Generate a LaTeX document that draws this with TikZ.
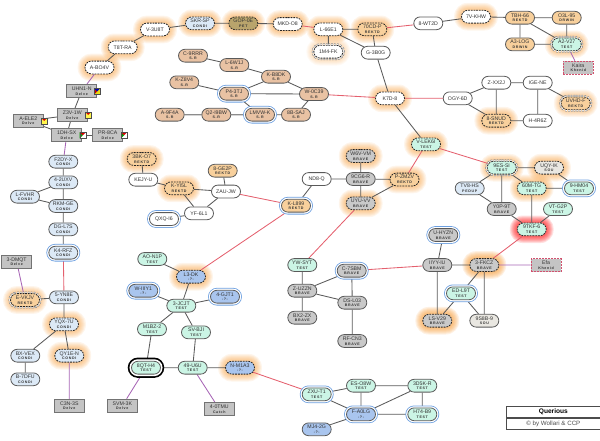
\documentclass[tikz,border=0pt]{standalone}
\usepackage{fontspec}
\setmainfont{Liberation Sans}
\newfontfamily\subfnt[LetterSpace=18]{Liberation Sans Bold}
\usetikzlibrary{shapes.misc,calc}
\pgfdeclarelayer{halolayer}
\pgfdeclarelayer{edgelayer}
\pgfsetlayers{halolayer,edgelayer,main}
\definecolor{cTan}{HTML}{E9C2A3}
\definecolor{cOra}{HTML}{F8D09C}
\definecolor{cBlu}{HTML}{DCE9F6}
\definecolor{cMin}{HTML}{CBF5E5}
\definecolor{cUnk}{HTML}{A9C5EE}
\definecolor{cGra}{HTML}{C9C9C9}
\definecolor{cSou}{HTML}{E9E7E1}
\definecolor{cPet}{HTML}{B9A46C}
\definecolor{cBox}{HTML}{C4C4C4}
\definecolor{cLine}{HTML}{5A5A5A}
\definecolor{cRed}{HTML}{E4606E}
\definecolor{cPur}{HTML}{A765B5}
\definecolor{cPnk}{HTML}{D2506E}
\definecolor{cRing}{HTML}{6C9FE0}
\definecolor{cHalo}{HTML}{F7A040}
\newcommand{\lblf}{\fontsize{5.2}{5.2}\selectfont}
\newcommand{\subf}{\subfnt\fontsize{3.6}{3.6}\selectfont}
\tikzset{
  nd/.style={shape=rounded rectangle,draw=cLine,line width=.8pt,minimum width=29pt,minimum height=12.8pt,inner sep=0pt,align=center,font=\lblf,text=black!80,fill=white},
  bx/.style={shape=rectangle,draw=cLine!85,line width=.9pt,minimum width=30pt,minimum height=13pt,inner sep=0pt,align=center,font=\lblf,text=black!80,fill=cBox},
  pk/.style={bx,draw=cPnk,dashed,dash pattern=on 2pt off 1pt},
  ds/.style={draw=black!85,dash pattern=on 1.8pt off 1pt},
  ring/.style={preaction={draw=cRing,line width=4.8pt},preaction={draw=white,line width=3.2pt}},
  gring/.style={preaction={draw=black!45,line width=4pt},preaction={draw=white,line width=2.6pt}},
  kring/.style={preaction={draw=black,line width=7.4pt},preaction={draw=white,line width=4pt}},
  tan/.style={fill=cTan},ora/.style={fill=cOra},blu/.style={fill=cBlu},min/.style={fill=cMin},
  unk/.style={fill=cUnk},gry/.style={fill=cGra},sou/.style={fill=cSou},pet/.style={fill=cPet},
  e/.style={draw=cLine,line width=.85pt},
  er/.style={draw=cRed,line width=.85pt},
  ep/.style={draw=cPur,line width=.85pt},
  eg/.style={draw=black!45,line width=1.2pt}
}
\newcommand{\NS}[6][]{\node[nd,#1] (#2) at (#3,#4) {#5\\[-.4pt]{\subf #6}};}
\newcommand{\NO}[5][]{\node[nd,#1] (#2) at (#3,#4) {#5};}
\newcommand{\BX}[6][bx]{\node[#1] (#2) at (#3,#4) {#5\\[-.4pt]{\subf #6}};}
\newcommand{\ico}[5]{%
  \fill[#3] (#1-3,#2-3) rectangle (#1+3,#2+3);
  \fill[#4] (#1-3,#2-3) -- (#1+3,#2-3) -- (#1,#2) -- cycle;
  \fill[#5] (#1-3,#2-3) -- (#1-3,#2+3) -- (#1,#2) -- cycle;
  \draw[black!70,line width=.4pt] (#1-3,#2-3) rectangle (#1+3,#2+3);}
\begin{document}
\begin{tikzpicture}[x=1pt,y=-1pt]
\useasboundingbox (0,0) rectangle (600,440);
% top chain
\NO[ds]{ABO}{99.5}{67.5}{A-BO4V}
\NO[ds]{T8T}{122.7}{47.3}{T8T-RA}
\NO[ds]{V3U}{155}{29.5}{V-3U8T}
\NS[ds,blu]{SKR}{200}{23.3}{SKR-SP}{CONDI}
\NS[ds,pet]{GOP}{243.3}{23.3}{GOP-0E}{PET}
\NO[ds]{MKD}{287.7}{24}{MKD-O8}
\NO[ds]{L66}{328.3}{29.3}{L-66E1}
\NS[ds,ora]{70C}{372.3}{29.3}{70CD-P}{REKTD}
\NO[ds,gring]{1M4}{328.3}{51.7}{1M4-FK}
\NO{G3B}{375.7}{52.7}{G-3B0G}
\NO[ds]{K7D}{390}{98.3}{K7D-8}
\NO{8WT}{428.3}{23.3}{8-WT2D}
\NO[ds]{7VK}{476}{16.7}{7V-KHW}
\NS[ora]{TBH}{520}{17.7}{TBH-66}{REKTD}
\NS[ora]{O3L}{566.7}{17.7}{O3L-95}{DRWIN}
\NS[ora]{A3L}{520}{44.3}{A3-LOG}{DRWIN}
\NS[ds,min,gring]{A2V}{566.7}{44.3}{A2-V27}{TEST}
\BX[pk]{KAI}{578.3}{67.7}{Kaira}{Khenid}
\NO{ZXX}{496.3}{82.7}{Z-XX2J}
\NO{IGE}{537.7}{82.7}{IGE-NE}
\NO{OGY}{457.7}{98.3}{OGY-6D}
\NS[ds,ora]{8SN}{496.3}{120.7}{8-SNUD}{REKTD}
\NO{H4R}{537.7}{120.7}{H-4R6Z}
\NS[ds,ora,gring]{UVH}{575.7}{103.3}{UVHD-F}{REKTD}
\NS[ds,min]{VLE}{426}{144.3}{V-LEK6I}{TEST}
% delve
\BX{UHN}{81.7}{91}{UHN1-N}{Delve}
\BX{Z3V}{72.3}{115}{Z3V-1W}{Delve}
\BX{AEL}{28.3}{120.7}{A-ELE2}{Delve}
\BX{1DH}{66.7}{135}{1DH-SX}{Delve}
\BX{PR8}{107.7}{135}{PR-8CA}{Delve}
\ico{97}{91.5}{yellow!90!black}{blue!70!black}{red!80!black}
\ico{88}{115}{yellow!70}{red!85!black}{yellow!70}
\ico{44}{121}{yellow!70}{red!85!black}{yellow!70}
\ico{82.7}{135.3}{white}{red!85!black}{green!60!black}
\ico{124}{135.3}{white}{red!85!black}{green!60!black}
% S.R
\NS[tan]{C9R}{193}{55.7}{C-9RRR}{S.R}
\NS[tan]{L6W}{234.3}{65}{L-6W1J}{S.R}
\NS[tan]{KZ8}{184.3}{82.3}{K-Z8V4}{S.R}
\NS[tan,ring]{P43}{234}{93.7}{P4-3TJ}{S.R}
\NS[tan]{A9F}{169.7}{114.7}{A-9F4A}{S.R}
\NS[tan]{Q2I}{216.3}{114.7}{Q2-I9BW}{S.R}
\NS[tan,ring]{LMV}{260}{114.7}{LMVW-K}{S.R}
\NS[tan]{8BS}{296}{114.7}{8B-SAJ}{S.R}
\NS[tan]{KB8}{276}{76.7}{K-B8DK}{S.R}
\NS[tan]{W0C}{314}{94}{W-0C39}{S.R}
% left column
\NS[blu]{F2D}{63.3}{161.7}{F2DY-X}{CONDI}
\NS[blu]{42U}{63.3}{182.3}{4-2UXV}{CONDI}
\NS[blu]{LFV}{25}{196.7}{L-FVHR}{CONDI}
\NS[blu]{RKM}{63.3}{206}{RKM-GE}{CONDI}
\NS[blu]{DGL}{63.3}{229.3}{DG-L7S}{CONDI}
\NS[blu,ring]{K4R}{63.3}{252.7}{K4-RFZ}{CONDI}
\BX{3DM}{16.7}{261.7}{3-DMQT}{Delve}
\NS[ds,ora,gring]{EVK}{25}{300}{E-VKJV}{REKTD}
\NS[blu]{5YN}{64}{297.3}{5-YN8E}{CONDI}
\NS[ds,blu]{YQX}{64}{324.3}{YQX-7U}{CONDI}
\NS[blu]{BXV}{25.3}{355.7}{BX-VEX}{CONDI}
\NS[ds,blu]{QY1}{69.3}{355.7}{QY1E-N}{CONDI}
\NS[blu]{B7D}{25.3}{379.3}{B-7DFU}{CONDI}
\BX{C3N}{69.3}{405.7}{C3N-3S}{Delve}
\BX{SVM}{122.3}{405.7}{SVM-3K}{Delve}
% middle
\NS[ds,ora]{3BK}{141.7}{159}{3BK-O7}{REKTD}
\NO{KEJ}{143.3}{179.7}{KEJY-U}
\NS[ds,ora]{KYI}{179}{188.3}{K-YI5L}{REKTD}
\NO{YF6}{199}{213.3}{YF-6L1}
\NO[ring]{QXQ}{164}{219}{QXQ-I6}
\NO{ZAU}{226}{191.5}{ZAU-JW}
\NS[ora]{8GE}{222.7}{170.7}{8-GE2P}{REKTD}
\NS[ora,ring]{KL8}{296}{205.7}{K-L899}{REKTD}
\NO{ND8}{316.7}{179}{ND8-Q}
\NS[gry]{9CG}{360.7}{179}{9CG6-R}{BRAVE}
\NS[ds,gry]{W6V}{360.7}{156}{W6V-VM}{BRAVE}
\NS[ds,gry]{UYU}{360.7}{203.3}{UYU-VV}{BRAVE}
\NS[ds,ora]{PZM}{404.5}{179.5}{P-ZMZV}{REKTD}
\NS[min]{YWS}{302.3}{265}{YW-SYT}{TEST}
\NS[gry,ring]{C7S}{351.7}{270.7}{C-7SBM}{BRAVE}
\NS[gry]{ZUZ}{302.3}{290.7}{Z-UZZN}{BRAVE}
\NS[gry]{DSL}{352.3}{302.7}{DS-L03}{BRAVE}
\NS[gry]{BX2}{302.3}{317.7}{BX2-ZX}{BRAVE}
\NS[gry]{RFC}{352.3}{341}{RF-CN3}{BRAVE}
% right
\NS[ds,min,gring]{9ES}{501.7}{167.7}{9ES-SI}{TEST}
\NS[ds,sou]{UQY}{549}{167.7}{UQY-IK}{SOU}
\NS[blu]{TV8}{469.7}{188.3}{TV8-HS}{PEDUP}
\NS[ds,min]{60M}{531.7}{188.3}{60M-TG}{TEST}
\NS[min,ring]{9HM}{579}{188.3}{9-HM04}{TEST}
\NS[gry]{Y0P}{501.7}{209}{Y0P-9T}{BRAVE}
\NS[min]{VTG}{558}{209}{VT-G2P}{TEST}
\NS[ds,min]{9TK}{531.7}{229.3}{9TKF-6}{TEST}
\NS[gry,ring]{UHY}{443.3}{235}{U-HYZN}{BRAVE}
\NS[gry]{IIY}{437.3}{265}{IIYY-IU}{BRAVE}
\NS[ds,gry]{3FK}{484.3}{265}{3-FKCZ}{BRAVE}
\BX[pk]{EFA}{546}{265}{Efa}{Khenid}
\NS[min,ring]{EDL}{461}{293.3}{ED-L9T}{TEST}
\NS[ds,gry]{LSV}{437.3}{320.7}{LS-V29}{BRAVE}
\NS[sou]{9S8}{484.3}{320.7}{9S8B-9}{SOU}
% bottom
\NS[min]{AON}{152.3}{259}{AO-N1P}{TEST}
\NS[ds,unk]{L3D}{191}{276.7}{L3-DK}{-?-}
\NS[unk,ring]{WII}{143.3}{290.7}{W-IIIY1}{-?-}
\NS[unk,ring]{4GJ}{225}{296.7}{4-GJT1}{-?-}
\NS[min]{3JC}{181.3}{305.7}{3-JCJT}{TEST}
\NS[min]{M1B}{152}{329.2}{M1BZ-2}{TEST}
\NS[min]{SVB}{196}{332.3}{SV-BJI}{TEST}
\NS[min,kring]{8QT}{146}{367.7}{8QT-H4}{TEST}
\NS[min]{49U}{192.7}{367.7}{49-U6U}{TEST}
\NS[ds,unk]{NM1}{240}{367.7}{N-M1A3}{-?-}
\BX{40T}{219.3}{409}{4-0TMU}{Catch}
\NS[min,ring]{ZXU}{316.7}{394.3}{ZXU-T1}{TEST}
\NS[min]{ESO}{361}{385.7}{ES-O8W}{TEST}
\NS[unk,ring]{FA0}{361}{414.3}{F-A0LG}{-?-}
\NS[unk]{MJ4}{316.7}{429.3}{MJ4-2G}{-?-}
\NS[min]{3D5}{422.3}{385.7}{3D5K-R}{TEST}
\NS[min,ring]{H74}{422.3}{414.3}{H74-B9}{TEST}
% legend
\node[draw=black!70,line width=.7pt,minimum width=94pt,minimum height=11.5pt,inner sep=0pt,font=\fontsize{6.6}{7}\selectfont\bfseries,anchor=north west] (ttl) at (506,406) {Querious};
\node[draw=black!70,line width=.7pt,minimum width=94pt,minimum height=12pt,inner sep=0pt,font=\fontsize{6.2}{7}\selectfont,text=black!70,anchor=north west] (cpy) at (506,417.4) {© by Wollari \& CCP};
% halos
\begin{pgfonlayer}{halolayer}
\foreach \n/\c/\k in {ABO/cHalo/1,T8T/cHalo/1,V3U/cHalo/1,SKR/cHalo/1,GOP/cHalo/1,MKD/cHalo/1,L66/cHalo/1,70C/cHalo/1,1M4/cHalo/.6,K7D/cHalo/1,7VK/cHalo/1,A2V/cHalo/1,8SN/cHalo/1,UVH/cHalo/.9,VLE/cHalo/1,EVK/cHalo/1,YQX/cHalo/1,QY1/cHalo/1,3BK/cHalo/1,KYI/cHalo/1,W6V/cHalo/1,UYU/cHalo/1,PZM/cHalo/1,9ES/cHalo/1,UQY/cHalo/1,60M/cHalo/1,9TK/red/1.2,3FK/cHalo/1.4,LSV/cHalo/1.4,L3D/cHalo/1,NM1/cHalo/1}{
  \foreach \r in {1,2,...,7}{
    \pgfmathsetmacro{\rr}{\r*1.0}
    \pgfmathsetmacro{\oo}{0.1*\k}
    \pgfmathsetmacro{\cc}{6.3+\rr}
    \fill[\c,opacity=\oo,rounded corners=\cc pt] ($(\n.west |- \n.south)+(-\rr pt,-\rr pt)$) rectangle ($(\n.east |- \n.north)+(\rr pt,\rr pt)$);
  }
}
\end{pgfonlayer}
% edges
\begin{pgfonlayer}{edgelayer}
\foreach \a/\b in {ABO/T8T,T8T/V3U,V3U/SKR,SKR/GOP,GOP/MKD,L66/70C,L66/G3B,70C/G3B,8WT/7VK,7VK/TBH,TBH/O3L,TBH/A3L,TBH/A2V,O3L/A2V,A3L/A2V,G3B/K7D,K7D/VLE,OGY/ZXX,OGY/8SN,ZXX/IGE,ZXX/8SN,IGE/H4R,IGE/UVH,8SN/H4R,UHN/Z3V,Z3V/AEL,Z3V/1DH,AEL/1DH,1DH/PR8,F2D/42U,42U/LFV,42U/RKM,LFV/RKM,RKM/DGL,DGL/K4R,EVK/5YN,5YN/YQX,YQX/BXV,YQX/QY1,BXV/B7D,C9R/L6W,L6W/KB8,KZ8/P43,KB8/P43,P43/LMV,P43/W0C,KB8/W0C,W0C/8BS,LMV/8BS,3BK/KEJ,KEJ/KYI,KYI/ZAU,KYI/YF6,8GE/ZAU,ZAU/YF6,YF6/QXQ,KL8/ND8,ND8/9CG,W6V/9CG,9CG/UYU,9CG/PZM,UYU/PZM,9ES/UQY,9ES/TV8,9ES/60M,9ES/Y0P,TV8/Y0P,UQY/9HM,60M/9HM,60M/9TK,Y0P/9TK,VTG/9TK,IIY/3FK,IIY/UHY,IIY/LSV,3FK/EDL,3FK/9S8,EDL/LSV,EDL/9S8,YWS/ZUZ,ZUZ/C7S,ZUZ/DSL,ZUZ/BX2,C7S/DSL,DSL/RFC,AON/L3D,L3D/3JC,WII/3JC,4GJ/3JC,3JC/M1B,3JC/SVB,M1B/8QT,SVB/49U,8QT/49U,49U/NM1,ZXU/ESO,ZXU/FA0,ESO/FA0,ESO/3D5,FA0/3D5,FA0/H74,3D5/H74,FA0/MJ4}{\draw[e] (\a) -- (\b);}
\foreach \a/\b in {MKD/L66,70C/8WT,W0C/K7D,K7D/OGY,K4R/5YN,ZAU/KL8,KL8/L3D,UYU/YWS,PZM/VLE,VLE/9ES,9TK/3FK,C7S/IIY,NM1/ZXU}{\draw[er] (\a) -- (\b);}
\foreach \a/\b in {A2V/KAI,ABO/UHN,1DH/F2D,3DM/EVK,QY1/C3N,8QT/SVM,49U/40T,3FK/EFA}{\draw[ep] (\a) -- (\b);}
\foreach \a/\b in {A9F/Q2I,Q2I/LMV}{\draw[eg] (\a) -- (\b);}
\draw[e,line width=1.1pt] (L66) -- (1M4);
\end{pgfonlayer}
\end{tikzpicture}
\end{document}
